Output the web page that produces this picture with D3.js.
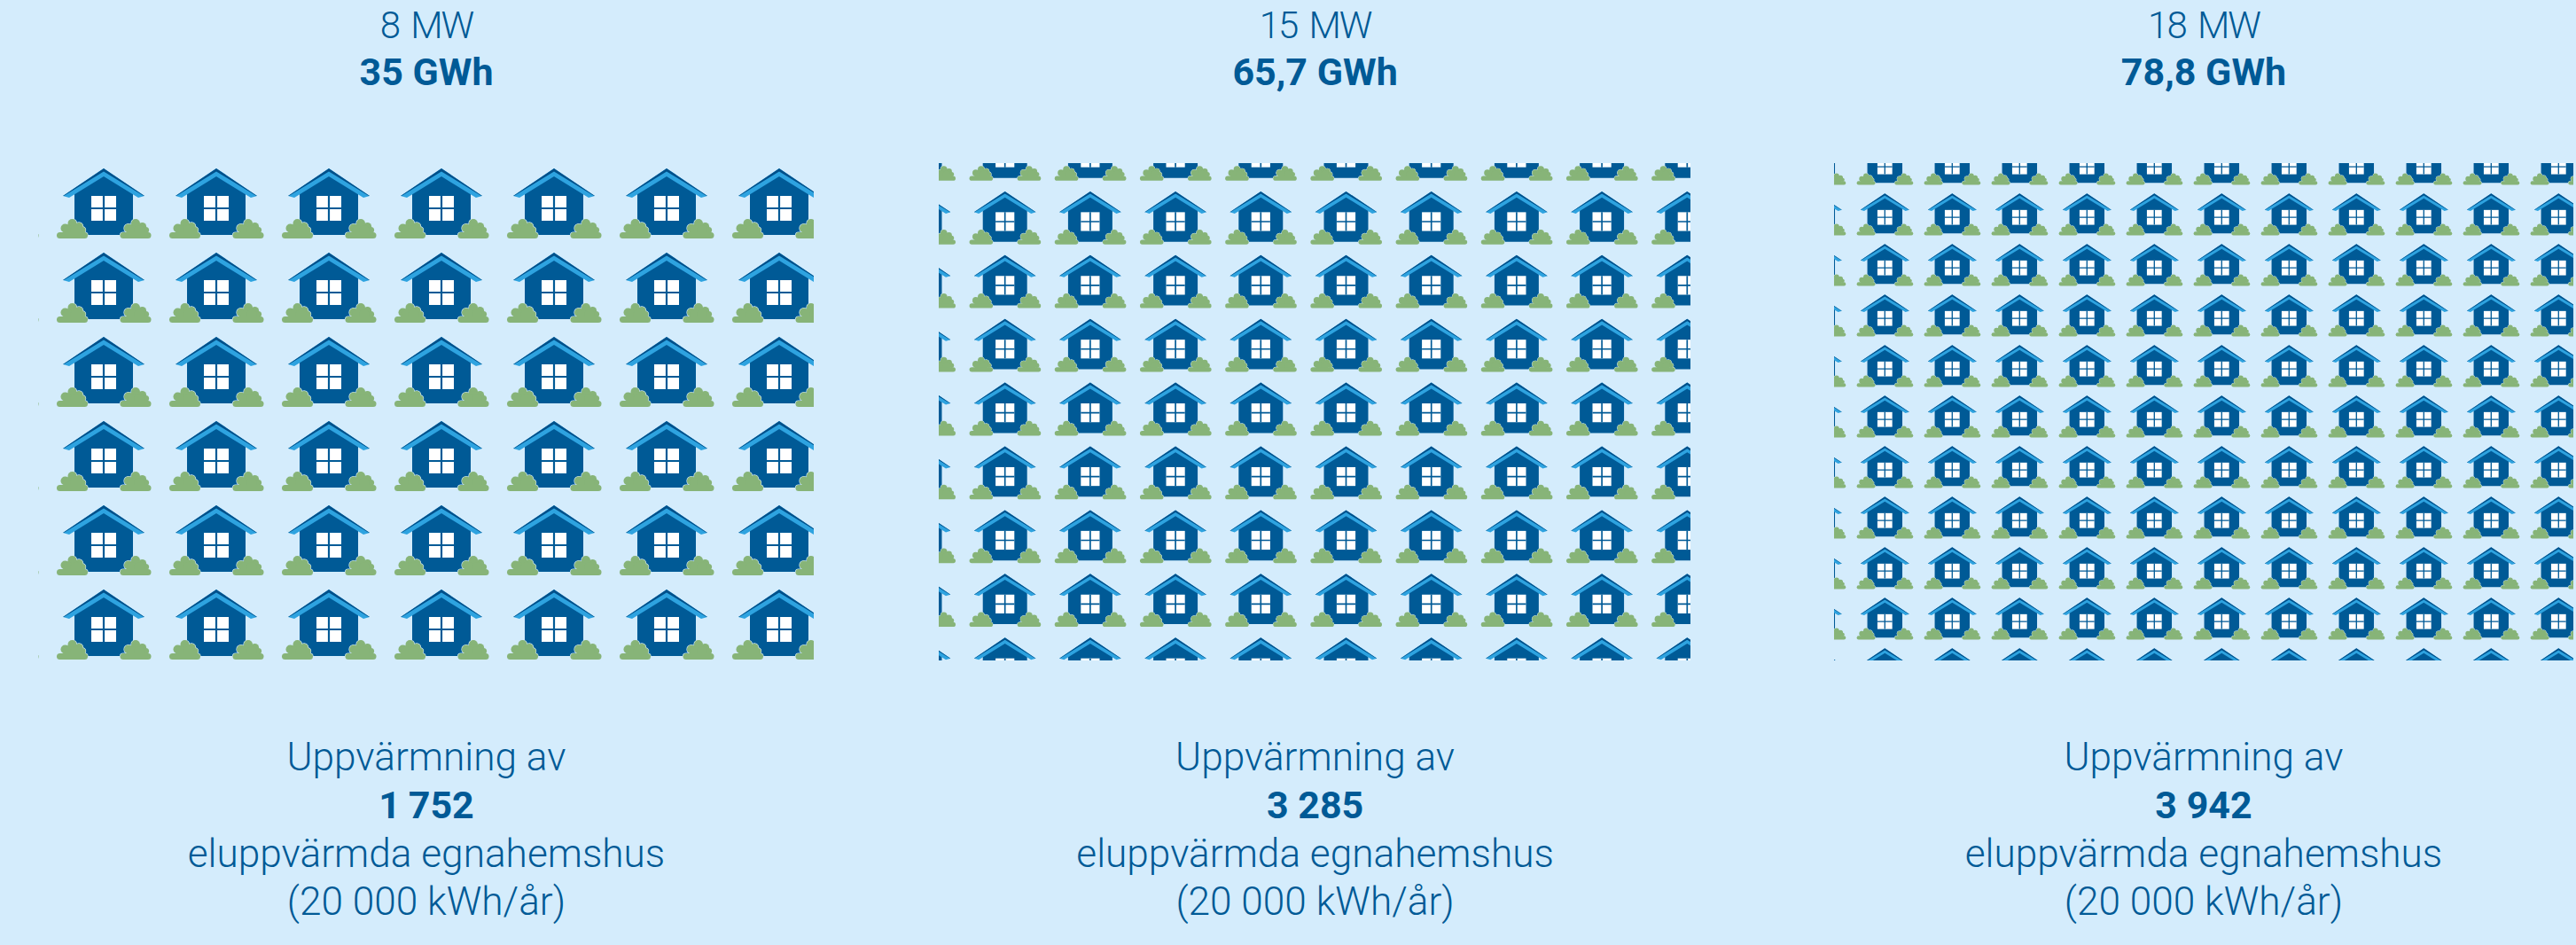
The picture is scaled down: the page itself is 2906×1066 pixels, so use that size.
<!DOCTYPE html>
<html><head><meta charset="utf-8">
<script src="https://cdn.jsdelivr.net/npm/d3@7/dist/d3.min.js"></script>
<style>html,body{margin:0;padding:0;background:#d4ecfc;overflow:hidden}
text{font-family:Roboto,sans-serif;fill:#005a96;text-anchor:middle}</style></head>
<body><svg id="c" width="2906" height="1066"></svg>
<script>
const powers=["8 MW","15 MW","18 MW"];
const energies=["35 GWh","65,7 GWh","78,8 GWh"];
const homes=["1\u2009752","3 285","3 942"];
const intro="Uppvärmning av";
const desc="eluppvärmda egnahemshus";
const usage="(20 000 kWh/år)";
const colsPerPanel=[8,10,12];
const rowsPerPanel=[7,9,11];
// layout
const centers=[481,1483.6,2486];
const clipX=[[43,918],[1059,1907],[2069,2903]];
const clipY=[184,745];
const x0=[-10,1037.5,2050.3], y0=[95,144,161.3], dx=[127,96.2,76], dy=[95,71.9,57], sc=[1,.757,.598];
const bg="#d4ecfc", blue="#005a96", green="#87b478";
const svg=d3.select("#c");
svg.append("rect").attr("width",2906).attr("height",1066).attr("fill",bg);
const defs=svg.append("defs");
const house=defs.append("g").attr("id","house");
house.append("path").attr("fill",blue).attr("d","M-33,34L-33,26L0,5L33,26L33,75L-33,75Z");
house.append("path").attr("fill","#2ea3e0").attr("d","M-46,31L0,0L46,31L39,33L0,9L-39,33Z");
house.append("path").attr("fill","#00508a").attr("d","M-46,31L0,0L46,31L45,31L0,3.5L-45,31Z");
house.append("rect").attr("x",-14).attr("y",31).attr("width",28).attr("height",28).attr("fill","#fff");
house.append("path").attr("stroke",blue).attr("stroke-width",2.2).attr("d","M0,31V59M-14,45H14");
const lumps=[[0,62,5],[-8,67.5,5],[7.5,65.5,4.6],[11.5,69.5,3.6],[0,68,7],[-4,70,6],[4,70,6]];
[-35.5,36].forEach(o=>{
 const b=house.append("g").attr("transform",`translate(${o},0)`);
 [[bg,1.2],[green,0]].forEach(([col,sw])=>{
  const g=b.append("g").attr("fill",col).attr("stroke",sw?bg:"none").attr("stroke-width",sw);
  g.selectAll("circle").data(lumps).join("circle").attr("cx",d=>d[0]).attr("cy",d=>d[1]).attr("r",d=>d[2]);
  g.append("rect").attr("x",-17.5).attr("y",72).attr("width",35).attr("height",7).attr("rx",3.5);
 });
});
powers.forEach((p,i)=>{
 const clip=`cl${i}`;
 defs.append("clipPath").attr("id",clip).append("rect")
  .attr("x",clipX[i][0]).attr("y",clipY[0]).attr("width",clipX[i][1]-clipX[i][0]).attr("height",clipY[1]-clipY[0]);
 const xs=d3.scaleLinear().domain([0,1]).range([x0[i],x0[i]+dx[i]]);
 const ys=d3.scaleLinear().domain([0,1]).range([y0[i],y0[i]+dy[i]]);
 const cells=d3.cross(d3.range(colsPerPanel[i]+1),d3.range(rowsPerPanel[i]+1));
 svg.append("g").attr("clip-path",`url(#${clip})`).selectAll("use").data(cells).join("use")
  .attr("href","#house").attr("transform",d=>`translate(${xs(d[0])},${ys(d[1])}) scale(${sc[i]})`);
 const cx=centers[i];
 const t=(s,y,fs,w,ls,ws)=>svg.append("text").attr("x",cx).attr("y",y).attr("font-size",fs).attr("font-weight",w).attr("letter-spacing",ls||0).attr("word-spacing",ws||0).text(s);
 t(p,43,42,300,-2,5); t(energies[i],96,43,700);
 t(intro,869,44.2,300); t(homes[i],923,43,700); t(desc,978,44.2,300); t(usage,1032,44.2,300);
});
</script></body></html>
